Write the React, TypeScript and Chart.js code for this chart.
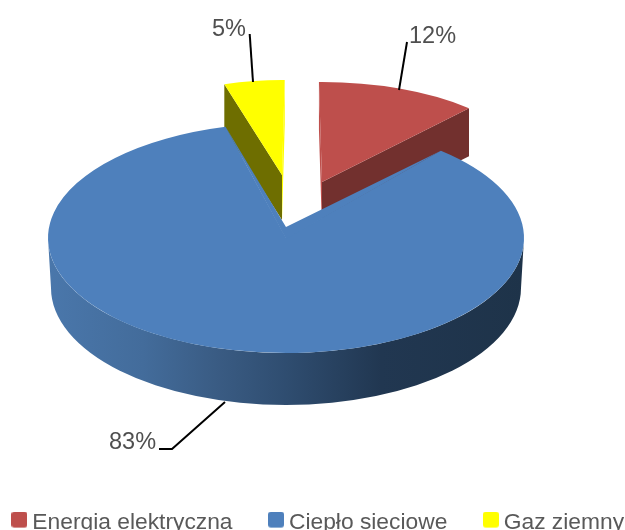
import React, { useEffect, useRef } from "react";
import { Chart, registerables } from "chart.js";

Chart.register(...registerables);

const categories = ["Energia elektryczna", "Ciepło sieciowe", "Gaz ziemny"];
const shares = [12, 83, 5];
const sliceColors = ["#BE4F4C", "#4E80BC", "#FFFF00"];
const startFaceColors = ["#BE4F4C", "#3A608D", "#6E6E00"];
const endFaceColors = ["#72302E", "#3A608D", "#FFFF00"];

// Projection of each slice: centre x, centre y, radius x, radius y
const sliceEllipses = [
  [322, 182, 218, 100],
  [286, 238, 238, 115],
  [282, 175, 195, 95],
];
const sliceDepths = [48, 52, 45];
const sliceStartDeg = [-0.8, 40.6, -17.2];
const sliceSweepScale = [1, 1.0197, 1];
const drawOrder = [2, 0, 1];
const blueApexLift = 11;
const blueBottom = [286, 288, 235, 117];
const wallStops: [number, string][] = [
  [0, "#4A77AB"],
  [0.2, "#436C9B"],
  [0.35, "#3A5C84"],
  [0.5, "#2F4D70"],
  [0.7, "#213751"],
  [1, "#1E3349"],
];

const labelOrigins = [
  [409, 43],
  [109, 449],
  [212, 36],
];
const leaders = [
  [[407, 42], [399, 90]],
  [[225, 402], [172, 449], [159, 449]],
  [[249.7, 34], [253, 82]],
];

// The canvas is wider than the page so that the legend stays on a single row.
const CANVAS_SHIFT = 100;
const RAD = Math.PI / 180;

function swatch(color: string) {
  const c = document.createElement("canvas");
  c.width = 16;
  c.height = 22;
  const x = c.getContext("2d")!;
  x.fillStyle = color;
  x.beginPath();
  x.roundRect(0, 0, 16, 16, 3);
  x.fill();
  return c;
}

const pie3d = {
  id: "pie3d",
  afterDatasetsUpdate(chart: any) {
    chart.getDatasetMeta(0).data.forEach((arc: any, i: number) => {
      const sweep = ((shares[i] / 100) * 360 * sliceSweepScale[i]) * RAD;
      arc.startAngle = (sliceStartDeg[i] - 90) * RAD;
      arc.endAngle = arc.startAngle + sweep;
      arc.circumference = sweep;
    });
  },
  beforeDatasetDraw(chart: any) {
    const ctx: CanvasRenderingContext2D = chart.ctx;
    const arcs = chart.getDatasetMeta(0).data;
    ctx.save();
    ctx.translate(CANVAS_SHIFT, 0);
    drawOrder.forEach((i) => {
      const arc = arcs[i];
      const [cx, cy, rx, ry] = sliceEllipses[i];
      const depth = sliceDepths[i];
      const at = (a: number) => [cx + rx * Math.cos(a), cy + ry * Math.sin(a)];
      const ps = at(arc.startAngle);
      const pe = at(arc.endAngle);

      if (i === 1) {
        // curved outer wall of the large slice
        const [bx, by, brx, bry] = blueBottom;
        const g = ctx.createLinearGradient(cx - rx, 0, cx + rx, 0);
        wallStops.forEach(([o, c]) => g.addColorStop(o, c));
        ctx.beginPath();
        ctx.ellipse(cx, cy, rx, ry, 0, 0, Math.PI);
        ctx.ellipse(bx, by, brx, bry, 0, Math.PI, 0, true);
        ctx.closePath();
        ctx.fillStyle = g;
        ctx.fill();
      } else {
        // straight cut faces of the pulled-out slices
        [
          [pe, endFaceColors[i]],
          [ps, startFaceColors[i]],
        ].forEach(([p, color]: any) => {
          ctx.fillStyle = color;
          ctx.beginPath();
          ctx.moveTo(cx, cy);
          ctx.lineTo(p[0], p[1]);
          ctx.lineTo(p[0], p[1] + depth);
          ctx.lineTo(cx, cy + depth);
          ctx.closePath();
          ctx.fill();
        });
      }

      // top surface, drawn by the library's own arc element
      ctx.save();
      ctx.translate(cx, cy);
      ctx.scale(rx / arc.outerRadius, ry / arc.outerRadius);
      ctx.translate(-arc.x, -arc.y);
      arc.draw(ctx);
      ctx.restore();

      if (i === 1) {
        // perspective: the slice's tip sits above the centre of its rim
        ctx.fillStyle = sliceColors[1];
        ctx.beginPath();
        ctx.moveTo(cx, cy + 1);
        ctx.lineTo(ps[0], ps[1]);
        ctx.lineTo(cx, cy - blueApexLift);
        ctx.lineTo(pe[0], pe[1]);
        ctx.closePath();
        ctx.fill();
      }
    });
    ctx.restore();
    return false;
  },
  afterDraw(chart: any) {
    const ctx: CanvasRenderingContext2D = chart.ctx;
    ctx.save();
    ctx.translate(CANVAS_SHIFT, 0);
    ctx.strokeStyle = "#000000";
    ctx.lineWidth = 2;
    leaders.forEach((pts) => {
      ctx.beginPath();
      pts.forEach((p, k) => (k ? ctx.lineTo(p[0], p[1]) : ctx.moveTo(p[0], p[1])));
      ctx.stroke();
    });
    ctx.font = '23.5px "Liberation Sans", Arial, sans-serif';
    ctx.fillStyle = "#4F4F4F";
    ctx.textAlign = "left";
    ctx.textBaseline = "alphabetic";
    shares.forEach((v, i) => {
      ctx.fillText(`${v}%`, labelOrigins[i][0], labelOrigins[i][1]);
    });
    ctx.restore();
  },
};

export default function App() {
  const ref = useRef<HTMLCanvasElement>(null);
  useEffect(() => {
    const chart = new Chart(ref.current!, {
      type: "pie",
      data: {
        labels: categories,
        datasets: [
          {
            data: shares,
            backgroundColor: sliceColors,
            borderWidth: 0,
            radius: 238,
          } as any,
        ],
      },
      options: {
        animation: false,
        responsive: false,
        devicePixelRatio: 1,
        plugins: {
          tooltip: { enabled: false },
          legend: {
            position: "bottom",
            labels: {
              usePointStyle: true,
              pointStyleWidth: 3,
              padding: 42,
              color: "#595959",
              font: { size: 22.8, family: '"Liberation Sans", Arial, sans-serif' },
              generateLabels: () =>
                categories.map((text, i) => ({
                  text,
                  index: i,
                  hidden: false,
                  lineWidth: 0,
                  fontColor: "#595959",
                  fillStyle: sliceColors[i],
                  strokeStyle: sliceColors[i],
                  pointStyle: swatch(sliceColors[i]),
                })),
            },
          },
        },
      } as any,
      plugins: [pie3d],
    });
    return () => chart.destroy();
  }, []);
  return (
    <div
      style={{
        position: "absolute",
        left: 0,
        top: 0,
        width: 625,
        height: 530,
        overflow: "hidden",
        background: "#fff",
      }}
    >
      <canvas
        ref={ref}
        width={842}
        height={544}
        style={{ display: "block", position: "absolute", left: -CANVAS_SHIFT, top: 0 }}
      />
    </div>
  );
}
